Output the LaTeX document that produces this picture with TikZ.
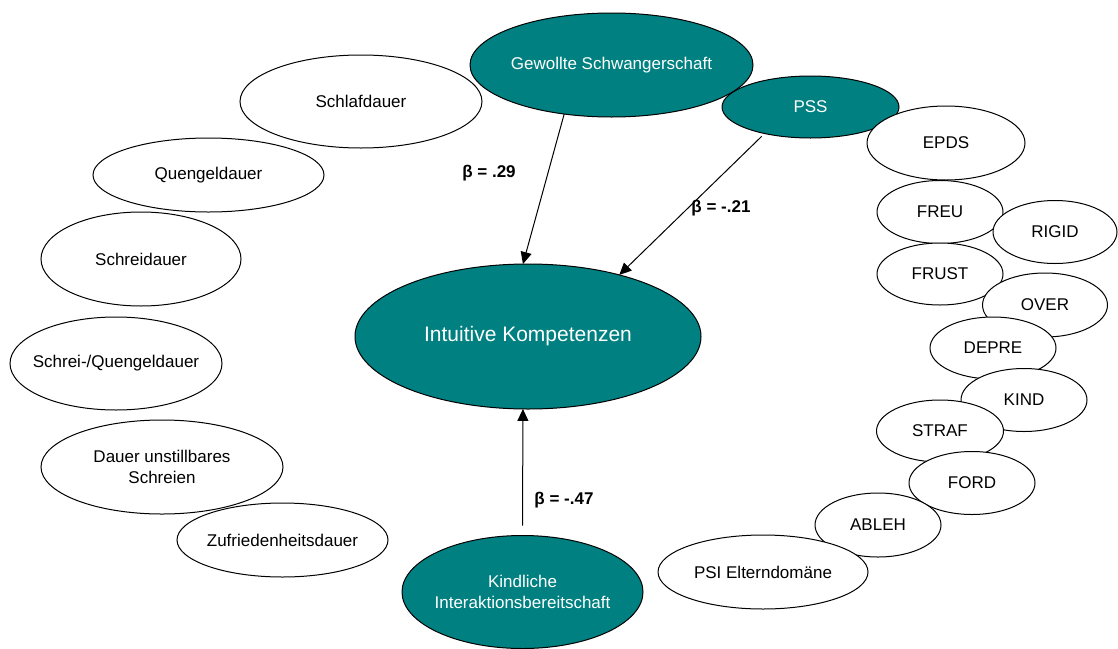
\documentclass[tikz,border=0pt]{standalone}
\usepackage{fontspec}
\setmainfont{Liberation Sans}
\usetikzlibrary{arrows.meta, shapes.geometric}
\definecolor{cteal}{HTML}{008080}
\tikzset{
  every picture/.style={line width=1pt},
  var/.style={ellipse, draw=black, fill=white, inner sep=-60pt, outer sep=0pt, align=center, font=\fontsize{17}{21.5}\selectfont},
  latent/.style={var, fill=cteal, text=white},
  dims/.style 2 args={minimum width=#1pt, minimum height=#2pt},
  effect/.style={-{Triangle[length=12pt, width=11pt]}, draw=black, line width=1pt},
  beta/.style={font=\fontsize{17}{20}\selectfont\bfseries},
}

\begin{document}
\begin{tikzpicture}[x=1pt, y=-1pt]
  \useasboundingbox (0,0) rectangle (1118,648);
  % Praediktoren und Kriterium
  \node[latent, dims={177}{62}] (pss) at (810.5,107) {PSS};
  \node[latent, dims={283}{104}] (gewollt) at (611.5,65) {Gewollte Schwangerschaft};
  \node[latent, dims={346}{145}, font=\fontsize{21}{25}\selectfont] (intuitiv) at (528,336.5) {Intuitive Kompetenzen};
  \node[latent, dims={241}{113}] (kindlich) at (522.5,592) {Kindliche\\Interaktionsbereitschaft};
  % links: Schreien und Schlafen
  \node[var, dims={242}{93}] (schlaf) at (361,101.5) {Schlafdauer};
  \node[var, dims={231}{74}] (quengel) at (208.5,175) {Quengeldauer};
  \node[var, dims={200}{94}] (schrei) at (141,259) {Schreidauer};
  \node[var, dims={212}{93}] (schreiquengel) at (116,363.5) {Schrei-/Quengeldauer};
  \node[var, dims={242}{94}] (unstill) at (162,467) {Dauer unstillbares\\Schreien};
  \node[var, dims={211}{74}] (zufrieden) at (282.5,540) {Zufriedenheitsdauer};
  % rechts: Belastung der Eltern
  \node[var, dims={158}{74}] (epds) at (946,143) {EPDS};
  \node[var, dims={126}{63}] (freu) at (940,212) {FREU};
  \node[var, dims={124}{63}] (rigid) at (1055,232) {RIGID};
  \node[var, dims={126}{62}] (frust) at (940,274) {FRUST};
  \node[var, dims={125}{64}] (over) at (1045,305) {OVER};
  \node[var, dims={126}{62}] (depre) at (993,348) {DEPRE};
  \node[var, dims={126}{63}] (kind) at (1024,400) {KIND};
  \node[var, dims={127}{62}] (straf) at (940,431) {STRAF};
  \node[var, dims={126}{63}] (ford) at (972,483) {FORD};
  \node[var, dims={126}{64}] (ableh) at (878,525) {ABLEH};
  \node[var, dims={210}{74}] (psi) at (763,572) {PSI Elterndomäne};
  % Pfade
  \draw[effect] (gewollt.-134) -- (intuitiv.94);
  \draw[effect, shorten <=4pt] (pss.-150) -- (intuitiv.34);
  \draw[effect, shorten <=10pt] (kindlich.north) -- (intuitiv.-94);
  \node[beta] (b1) at (489,173) {β = .29};
  \node[beta] (b2) at (721,208) {β = -.21};
  \node[beta] (b3) at (564,500) {β = -.47};
\end{tikzpicture}
\end{document}
